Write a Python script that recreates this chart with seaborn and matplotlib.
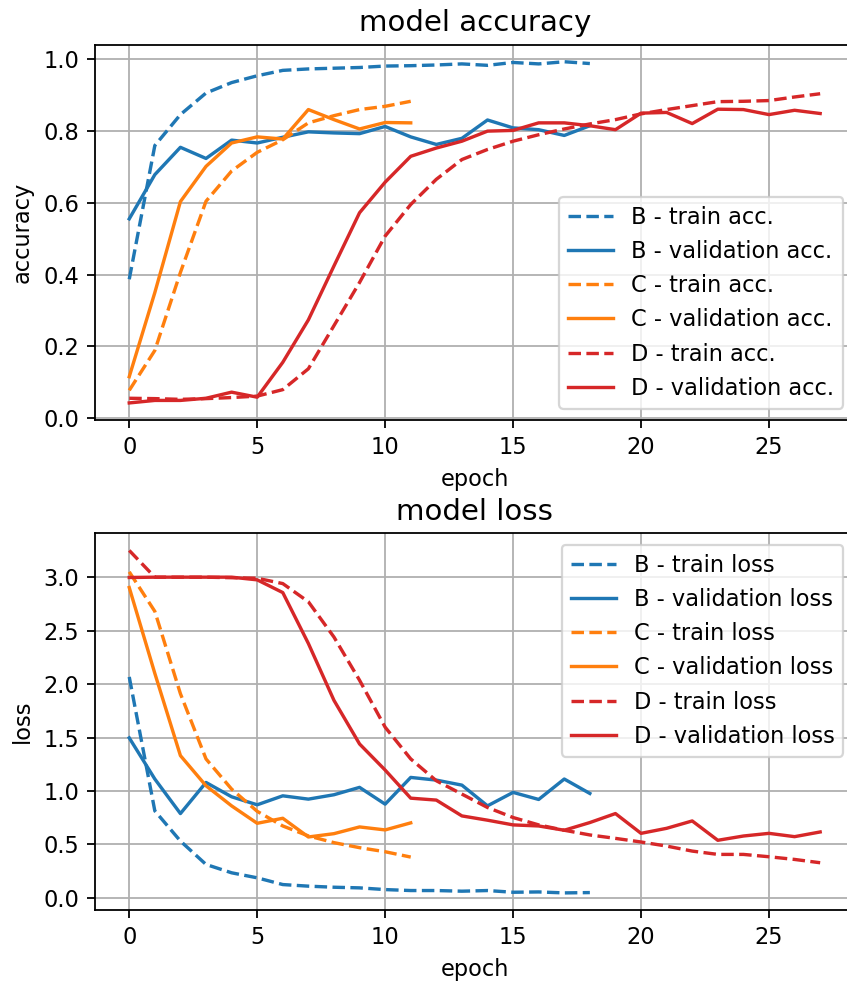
import matplotlib
matplotlib.use("Agg")
import matplotlib.pyplot as plt
import seaborn as sns
import numpy as np

# ---- data ----
B_train_acc = [0.387, 0.759, 0.845, 0.905, 0.934, 0.953, 0.968, 0.972, 0.974, 0.976,
               0.980, 0.981, 0.983, 0.986, 0.982, 0.990, 0.986, 0.992, 0.987]
B_val_acc = [0.555, 0.678, 0.754, 0.723, 0.774, 0.766, 0.782, 0.797, 0.794, 0.792,
             0.812, 0.783, 0.762, 0.779, 0.830, 0.808, 0.803, 0.787, 0.814]
C_train_acc = [0.078, 0.189, 0.406, 0.604, 0.688, 0.740, 0.775, 0.822, 0.842, 0.859, 0.868, 0.882]
C_val_acc = [0.116, 0.350, 0.603, 0.701, 0.766, 0.783, 0.777, 0.859, 0.831, 0.805, 0.823, 0.822]
D_train_acc = [0.056, 0.055, 0.053, 0.055, 0.058, 0.062, 0.080, 0.138, 0.258, 0.378,
               0.507, 0.595, 0.665, 0.720, 0.748, 0.771, 0.789, 0.805, 0.819, 0.831,
               0.847, 0.859, 0.870, 0.881, 0.882, 0.884, 0.894, 0.903]
D_val_acc = [0.043, 0.050, 0.050, 0.056, 0.073, 0.059, 0.156, 0.274, 0.424, 0.572,
             0.657, 0.729, 0.752, 0.771, 0.799, 0.801, 0.822, 0.822, 0.814, 0.803,
             0.849, 0.851, 0.820, 0.860, 0.859, 0.845, 0.857, 0.848]

B_train_loss = [2.067, 0.814, 0.532, 0.313, 0.235, 0.188, 0.125, 0.110, 0.100, 0.094,
                0.078, 0.069, 0.069, 0.063, 0.069, 0.053, 0.056, 0.047, 0.050]
B_val_loss = [1.497, 1.112, 0.789, 1.080, 0.946, 0.871, 0.955, 0.924, 0.965, 1.034,
              0.877, 1.127, 1.102, 1.055, 0.861, 0.987, 0.921, 1.112, 0.977]
C_train_loss = [3.05, 2.68, 1.91, 1.30, 1.018, 0.81, 0.673, 0.58, 0.517, 0.47, 0.432, 0.382]
C_val_loss = [2.903, 2.10, 1.331, 1.049, 0.861, 0.698, 0.745, 0.570, 0.601, 0.664, 0.636, 0.702]
D_train_loss = [3.25, 3.00, 3.00, 3.00, 2.995, 2.99, 2.94, 2.77, 2.44, 2.036,
                1.597, 1.30, 1.096, 0.971, 0.846, 0.752, 0.683, 0.633, 0.589, 0.557,
                0.523, 0.485, 0.438, 0.407, 0.407, 0.385, 0.36, 0.329]
D_val_loss = [2.997, 3.0, 3.0, 3.0, 3.0, 2.975, 2.856, 2.38, 1.848, 1.44,
              1.196, 0.933, 0.915, 0.767, 0.727, 0.683, 0.673, 0.633, 0.705, 0.789,
              0.604, 0.651, 0.72, 0.539, 0.579, 0.604, 0.573, 0.617]

models = ["B", "C", "D"]
colors = {"B": "tab:blue", "C": "tab:orange", "D": "tab:red"}
acc = {"B": (B_train_acc, B_val_acc), "C": (C_train_acc, C_val_acc), "D": (D_train_acc, D_val_acc)}
loss = {"B": (B_train_loss, B_val_loss), "C": (C_train_loss, C_val_loss), "D": (D_train_loss, D_val_loss)}

DPI = 162
fig = plt.figure(figsize=(847 / DPI, 982 / DPI), dpi=DPI)
ax1 = fig.add_axes([0.1118, 0.5723, 0.8973, 0.3822])
ax2 = fig.add_axes([0.1118, 0.0733, 0.8973, 0.3836])

def draw(ax, data, suffix):
    for m in models:
        tr, va = data[m]
        sns.lineplot(x=np.arange(len(tr)), y=tr, ax=ax, color=colors[m], linestyle="--",
                     linewidth=1.5, label=f"{m} - train {suffix}")
        sns.lineplot(x=np.arange(len(va)), y=va, ax=ax, color=colors[m], linestyle="-",
                     linewidth=1.5, label=f"{m} - validation {suffix}")
    ax.grid(True, color="#b0b0b0", linewidth=0.8)
    ax.set_axisbelow(True)
    ax.set_xlabel("epoch")

draw(ax1, acc, "acc.")
ax1.set_title("model accuracy", fontsize=13)
ax1.set_ylabel("accuracy")
ax1.set_yticks([0.0, 0.2, 0.4, 0.6, 0.8, 1.0])
ax1.legend(loc="lower right")

draw(ax2, loss, "loss")
ax2.set_title("model loss", fontsize=13)
ax2.set_ylabel("loss")
ax2.set_yticks([0.0, 0.5, 1.0, 1.5, 2.0, 2.5, 3.0])
ax2.legend(loc="upper right")

for ax in (ax1, ax2):
    ax.set_xticks([0, 5, 10, 15, 20, 25])

fig.savefig("out.png", dpi=DPI)
